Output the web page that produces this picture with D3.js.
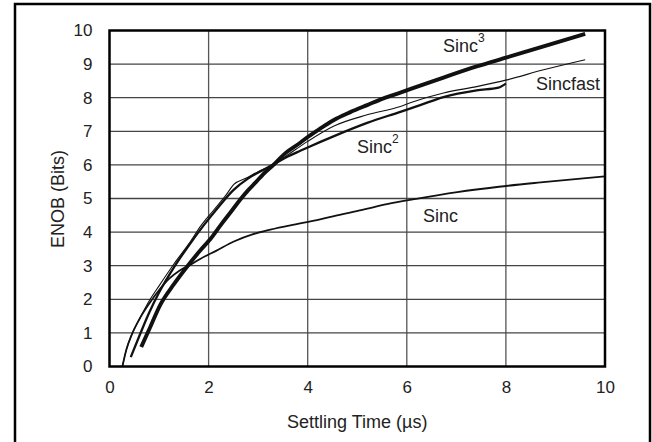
<!DOCTYPE html>
<html><head><meta charset="utf-8">
<script src="https://cdn.jsdelivr.net/npm/d3@7"></script>
<style>
html,body{margin:0;padding:0;background:#fff;}
svg{display:block;}
text{font-family:"Liberation Sans",Arial,sans-serif;fill:#222;}
</style></head>
<body>
<svg id="chart" width="652" height="442"></svg>
<script>
// Data (Settling Time in µs, ENOB in bits)
const xTicks = [0, 2, 4, 6, 8, 10];
const yTicks = [0, 1, 2, 3, 4, 5, 6, 7, 8, 9, 10];

const sincX = [0.26,0.34,0.45,0.6,0.81,1.01,1.21,1.41,1.66,1.83,2.16,2.51,2.9,3.18,3.65,4.25,4.51,5.1,5.6,6.19,7.02,7.86,8.7,10];
const sincY = [0,0.5,0.95,1.4,1.89,2.29,2.62,2.85,3.05,3.2,3.45,3.72,3.94,4.05,4.2,4.38,4.47,4.66,4.83,4.99,5.19,5.35,5.48,5.66];

const sinc2X = [0.43,0.6,0.8,1.0,1.3,1.6,1.9,2.2,2.5,2.8,3.1,3.35,3.6,3.85,4.0,4.52,5.2,5.87,6.27,6.74,7.41,7.85,8.0];
const sinc2Y = [0.28,0.9,1.6,2.2,2.95,3.6,4.2,4.75,5.25,5.6,5.85,6.05,6.25,6.42,6.52,6.85,7.25,7.58,7.78,8.02,8.22,8.3,8.42];

const sinc3X = [0.64,0.8,1.03,1.3,1.58,1.83,2.04,2.24,2.46,2.64,2.8,2.95,3.1,3.31,3.55,3.85,4.0,4.25,4.52,4.86,5.2,5.53,5.87,6.27,6.74,7.41,8.02,8.76,9.6];
const sinc3Y = [0.58,1.1,1.85,2.45,3.0,3.45,3.8,4.2,4.62,4.97,5.25,5.48,5.72,6.0,6.35,6.66,6.83,7.08,7.33,7.57,7.78,7.98,8.15,8.36,8.6,8.93,9.2,9.53,9.9];

const sincfastX = [0.26,0.34,0.45,0.6,0.8,1.0,1.3,1.6,1.85,2.1,2.35,2.51,2.75,3.0,3.3,3.6,4.0,4.52,5.2,5.87,6.07,6.74,7.41,8.02,8.76,9.6];
const sincfastY = [0,0.5,0.95,1.4,1.95,2.4,3.05,3.65,4.2,4.65,5.1,5.42,5.6,5.8,6.0,6.3,6.7,7.15,7.49,7.74,7.85,8.14,8.33,8.53,8.83,9.13];

const seriesNames = ["Sinc", "Sinc2", "Sinc3", "Sincfast"];
const seriesX = [sincX, sinc2X, sinc3X, sincfastX];
const seriesY = [sincY, sinc2Y, sinc3Y, sincfastY];
const seriesWidth = [1.8, 2.3, 3.9, 1.1];

const xLabel = "Settling Time (\u00b5s)";
const yLabel = "ENOB (Bits)";

const svg = d3.select("#chart");

// outer frame
svg.append("rect").attr("x", 15).attr("y", 4).attr("width", 635).attr("height", 470)
  .attr("fill", "none").attr("stroke", "#000").attr("stroke-width", 2.5);

const L = 109.5, R = 605, T = 30.5, B = 366.5;
const x = d3.scaleLinear().domain([0, 10]).range([L, R]);
const y = d3.scaleLinear().domain([0, 10]).range([B, T]);

// grid
const g = svg.append("g");
g.selectAll("line.vg").data(xTicks.filter(d => d > 0 && d < 10)).join("line")
  .attr("x1", d => x(d)).attr("x2", d => x(d)).attr("y1", T).attr("y2", B)
  .attr("stroke", "#555").attr("stroke-width", 1.3);
g.selectAll("line.hg").data(yTicks.filter(d => d > 0 && d < 10)).join("line")
  .attr("y1", d => y(d)).attr("y2", d => y(d)).attr("x1", L).attr("x2", R)
  .attr("stroke", "#444").attr("stroke-width", 1.3);

// axes (labels only)
const xAxis = svg.append("g").attr("transform", `translate(0,${B})`)
  .call(d3.axisBottom(x).tickValues(xTicks).tickSize(0).tickPadding(14).tickFormat(d3.format("d")));
const yAxis = svg.append("g").attr("transform", `translate(${L},0)`)
  .call(d3.axisLeft(y).tickValues(yTicks).tickSize(0).tickPadding(17).tickFormat(d3.format("d")));
[xAxis, yAxis].forEach(a => {
  a.select(".domain").remove();
  a.selectAll("text").attr("font-size", 17).attr("fill", "#222")
    .attr("font-family", "'Liberation Sans', Arial, sans-serif");
});

// lines
const line = d3.line().curve(d3.curveMonotoneX).x(d => x(d[0])).y(d => y(d[1]));
seriesX.forEach((xs, i) => {
  const pts = xs.map((v, j) => [v, seriesY[i][j]]);
  svg.append("path").datum(pts).attr("d", line)
    .attr("fill", "none").attr("stroke", "#111").attr("stroke-width", seriesWidth[i])
    .attr("stroke-linejoin", "round");
});

// plot border
svg.append("rect").attr("x", L).attr("y", T).attr("width", R - L).attr("height", B - T)
  .attr("fill", "none").attr("stroke", "#000").attr("stroke-width", 2.5);

// series labels
function label(txt, sup, px, py) {
  const t = svg.append("text").attr("x", px).attr("y", py).attr("font-size", 18);
  t.append("tspan").text(txt);
  if (sup) t.append("tspan").attr("dy", -10).attr("font-size", 12).text(sup);
}
label("Sinc", "3", 443, 52);
label("Sincfast", null, 536, 90);
label("Sinc", "2", 357, 153);
label("Sinc", null, 423, 222);

// axis titles
svg.append("text").attr("x", (L + R) / 2).attr("y", 428).attr("text-anchor", "middle")
  .attr("font-size", 18).text(xLabel);
svg.append("text").attr("transform", `translate(64,199) rotate(-90)`).attr("text-anchor", "middle")
  .attr("font-size", 18).text(yLabel);
</script>
</body></html>
